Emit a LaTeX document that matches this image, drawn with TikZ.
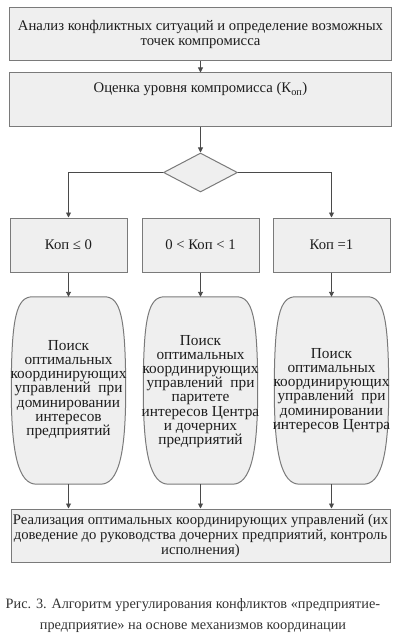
\documentclass[tikz,border=0pt]{standalone}
\usepackage{fontspec}
\setmainfont{Liberation Serif}
\usetikzlibrary{shapes.geometric,arrows.meta,calc}
\definecolor{boxfill}{HTML}{EFEFEF}
\definecolor{edgegray}{HTML}{7A7A7A}
\definecolor{arrgray}{HTML}{4A4A4A}
\definecolor{txt}{HTML}{1E1E1E}
\definecolor{captxt}{HTML}{333333}
\newcommand{\bodyfont}{\fontsize{14.7}{15}\selectfont}
\newcommand{\shapefont}{\fontsize{15.3}{14.2}\selectfont}
\begin{document}
\begin{tikzpicture}[x=1pt,y=-1pt,
  box/.style={draw=edgegray, fill=boxfill, line width=1pt, inner sep=0pt, align=center, font=\bodyfont, text=txt},
  holder/.style={draw=none, inner sep=0pt, minimum width=114pt, minimum height=187pt},
  shapetext/.style={align=center, font=\shapefont, text=txt, inner sep=0pt},
  barrel/.style={draw=edgegray, fill=boxfill, line width=1pt},
  arr/.style={draw=arrgray, line width=0.9pt, -{Triangle[length=5pt,width=5pt]}}]
\useasboundingbox (0,0) rectangle (397,639);

\node[box, minimum width=382pt, minimum height=53pt] (b1) at (200.5,34.5)
  {Анализ конфликтных ситуаций и определение возможных\\ точек компромисса};
\node[box, minimum width=382pt, minimum height=54pt] (b2) at (200.5,100)
  {Оценка уровня компромисса (К\textsubscript{оп})\\[5pt]\strut};
\node[draw=edgegray, fill=boxfill, line width=1pt, shape=diamond, inner sep=0pt,
  minimum width=74pt, minimum height=39pt] (dia) at (200.5,172.5) {};

\node[box, minimum width=117pt, minimum height=54pt] (kA) at (68.5,245) {Коп ≤ 0};
\node[box, minimum width=117pt, minimum height=54pt] (kB) at (200.5,245) {0 < Коп < 1};
\node[box, minimum width=117pt, minimum height=54pt] (kC) at (331.5,245) {Коп =1};

\node[holder] (sA) at (68.5,390.5) {};
\node[holder] (sB) at (200.5,390.5) {};
\node[holder] (sC) at (331.5,390.5) {};

\foreach \n in {sA,sB,sC} {
  \path[barrel] ($(\n.north)+(-36,0)$) -- ($(\n.north)+(36,0)$)
    .. controls ($(\n.north)+(52,0)$) and ($(\n.north east)+(0,20)$) .. (\n.east)
    .. controls ($(\n.south east)+(0,-30)$) and ($(\n.south)+(50,0)$) .. ($(\n.south)+(32,0)$)
    -- ($(\n.south)+(-32,0)$)
    .. controls ($(\n.south)+(-50,0)$) and ($(\n.south west)+(0,-30)$) .. (\n.west)
    .. controls ($(\n.north west)+(0,20)$) and ($(\n.north)+(-52,0)$) .. cycle;
}

\node[shapetext] (tA) at ([yshift=1pt]sA) {Поиск\\ оптимальных\\ координирующих\\ управлений~~при\\ доминировании\\ интересов\\ предприятий};
\node[shapetext] (tB) at ([yshift=-1pt]sB) {Поиск\\ оптимальных\\ координирующих\\ управлений~~при\\ паритете\\ интересов Центра\\ и дочерних\\ предприятий};
\node[shapetext] (tC) at (sC) {Поиск\\ оптимальных\\ координирующих\\ управлений~~при\\ доминировании\\ интересов Центра};

\node[box, minimum width=379pt, minimum height=53pt] (b5) at (200.5,535.5)
  {Реализация оптимальных координирующих управлений (их\\ доведение до руководства дочерних предприятий, контроль\\ исполнения)};

\node[align=center, font=\fontsize{14.3}{21}\selectfont, text=captxt] (cap) at (193,616)
  {Рис. 3. Алгоритм урегулирования конфликтов «предприятие-\\ предприятие» на основе механизмов координации};

\draw[arr] (b1) -- (b2);
\draw[arr] (b2) -- (dia);
\draw[arr] (dia.west) -| (kA.north);
\draw[arr] (dia.east) -| (kC.north);
\draw[arr] (kA) -- (sA);
\draw[arr] (kB) -- (sB);
\draw[arr] (kC) -- (sC);
\draw[arr] (sA.south) -- (sA.south |- b5.north);
\draw[arr] (sB.south) -- (sB.south |- b5.north);
\draw[arr] (sC.south) -- (sC.south |- b5.north);
\end{tikzpicture}
\end{document}
